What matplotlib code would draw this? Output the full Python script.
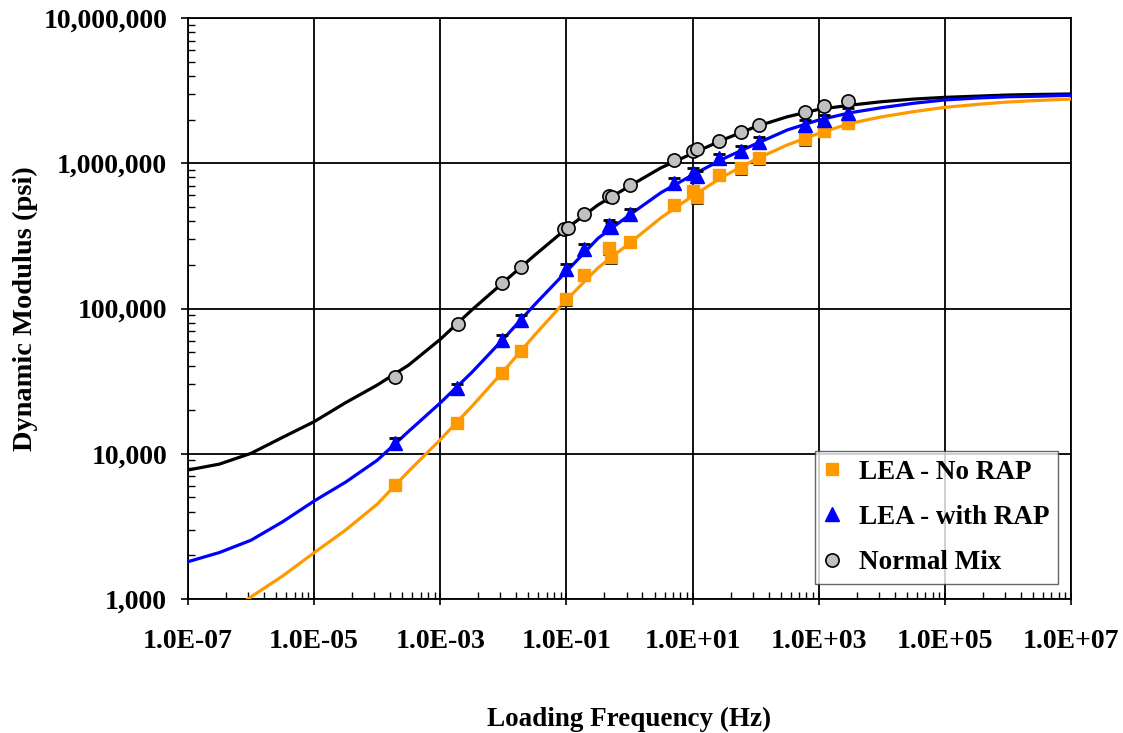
import matplotlib
matplotlib.use("Agg")
import matplotlib.pyplot as plt
from matplotlib.ticker import FixedLocator, FuncFormatter, NullFormatter

plt.rcParams['font.family'] = ['Liberation Serif', 'DejaVu Serif']
plt.rcParams['font.weight'] = 'bold'

# fitted master curves, every half decade
curve_freq = [1e-7, 3.16e-7, 1e-6, 3.16e-6, 1e-5, 3.16e-5, 1e-4, 3.16e-4, 1e-3, 3.16e-3,
              1e-2, 3.16e-2, 1e-1, 3.16e-1, 1e0, 3.16e0, 1e1, 3.16e1, 1e2, 3.16e2,
              1e3, 3.16e3, 1e4, 3.16e4, 1e5, 3.16e5, 1e6, 3.16e6, 1e7]
curve_normal = [7730, 8490, 10070, 12970, 16630, 22490, 29720, 40830, 61380, 97700,
                151400, 233300, 354800, 516400, 696600, 931100, 1169000, 1462000, 1786000, 2089000,
                2350000, 2512000, 2655000, 2767000, 2844000, 2897000, 2951000, 2979000, 2999000]
curve_rap = [1807, 2090, 2540, 3400, 4730, 6380, 9020, 14290, 22390, 36300,
             61700, 106700, 180000, 304100, 440600, 628100, 831800, 1081000, 1358000, 1694000,
             1986000, 2228000, 2415000, 2588000, 2729000, 2812000, 2871000, 2897000, 2938000]
curve_norap = [500, 724, 1035, 1439, 2084, 2985, 4500, 7590, 12500, 21180,
               36980, 65920, 114600, 190500, 281800, 421700, 595700, 816600, 1064000, 1337000,
               1607000, 1884000, 2089000, 2265000, 2427000, 2541000, 2642000, 2710000, 2767000]

# measured points
freq_normal = [1.9e-4, 1.9e-3, 9.5e-3, 0.019, 0.093, 0.107, 0.19, 0.48, 0.52, 1.02,
               5.08, 10.07, 11.9, 26.3, 58.9, 115, 603, 1202, 2951]
e_normal = [33960, 77800, 149300, 192300, 350800, 359700, 444600, 595700, 583400, 707900,
            1047000, 1213000, 1247000, 1429000, 1648000, 1832000, 2239000, 2477000, 2692000]

freq_lea = [1.9e-4, 1.86e-3, 9.5e-3, 0.019, 0.0986, 0.19, 0.48, 0.50, 1.02,
            5.08, 10.07, 11.9, 26.3, 58.9, 115, 603, 1202, 2951]
e_rap = [11800, 28200, 60700, 83200, 186200, 255900, 375800, 365600, 447700,
         734500, 853100, 816600, 1081000, 1222000, 1406000, 1832000, 1995000, 2208000]
e_norap = [6100, 16400, 36100, 51300, 115600, 169800, 260000, 225400, 288400,
           516400, 647100, 583400, 831800, 922600, 1081000, 1462000, 1675000, 1901000]
rel_err = 0.08

orange = '#FF9900'
blue = '#0000FF'

fig = plt.figure(figsize=(11.23, 7.33), dpi=100)
ax = fig.add_axes([0.1674, 0.1828, 0.7863, 0.7926])
ax.set_xscale('log')
ax.set_yscale('log')
ax.set_xlim(1e-7, 1e7)
ax.set_ylim(1e3, 1e7)

ax.plot(curve_freq, curve_normal, color='black', lw=2.3, zorder=3)
ax.plot(curve_freq, curve_rap, color=blue, lw=2.3, zorder=3)
ax.plot(curve_freq, curve_norap, color=orange, lw=2.3, zorder=3)

ax.errorbar(freq_lea, e_norap, yerr=[v * rel_err for v in e_norap], fmt='none',
            ecolor='black', elinewidth=1.2, capsize=4, capthick=2, zorder=4)
ax.errorbar(freq_lea, e_rap, yerr=[v * rel_err for v in e_rap], fmt='none',
            ecolor='black', elinewidth=1.2, capsize=4, capthick=2, zorder=4)

ax.plot(freq_lea, e_norap, ls='none', marker='s', ms=8.5, mfc=orange, mec=orange,
        label='LEA - No RAP', zorder=5)
ax.plot(freq_lea, e_rap, ls='none', marker='^', ms=10, mfc=blue, mec=blue,
        label='LEA - with RAP', zorder=5)
ax.plot(freq_normal, e_normal, ls='none', marker='o', ms=9.5, mfc='#C0C0C0', mec='black',
        mew=1.2, label='Normal Mix', zorder=6)

major_x = [10.0 ** p for p in range(-7, 8, 2)]
minor_x = [k * k * 10.0 ** p for p in range(-7, 7, 2) for k in range(2, 10)]
ax.xaxis.set_major_locator(FixedLocator(major_x))
ax.xaxis.set_minor_locator(FixedLocator(minor_x))
ax.xaxis.set_major_formatter(FuncFormatter(lambda v, pos: f"{v:.1E}"))
ax.xaxis.set_minor_formatter(NullFormatter())
ax.yaxis.set_major_formatter(FuncFormatter(lambda v, pos: f"{v:,.0f}"))
ax.yaxis.set_minor_formatter(NullFormatter())

ax.grid(True, which='major', color='black', lw=1.3, zorder=1)
ax.set_axisbelow(True)
for s in ax.spines.values():
    s.set_color('black')
    s.set_linewidth(1.3)

ax.tick_params(axis='x', which='major', direction='inout', length=9, width=1.2, pad=17, labelsize=20)
ax.tick_params(axis='x', which='minor', direction='in', length=5, width=1)
ax.tick_params(axis='y', which='major', direction='out', length=5, width=1.2, pad=10, labelsize=20)
ax.tick_params(axis='y', which='minor', direction='in', length=5, width=1)

ax.set_xlabel('Loading Frequency (Hz)', fontsize=19.5, fontweight='bold')
ax.set_ylabel('Dynamic Modulus (psi)', fontsize=20.5, fontweight='bold')
ax.xaxis.set_label_coords(0.5, -0.186)
ax.yaxis.set_label_coords(-0.17, 0.5)

leg = ax.legend(loc='lower right', bbox_to_anchor=(0.985, 0.026), borderaxespad=0,
                fontsize=19.5, frameon=True, fancybox=False, handletextpad=0.7,
                handlelength=0.6, labelspacing=0.75, borderpad=0.32)
leg.get_frame().set_edgecolor('#404040')
leg.get_frame().set_linewidth(1.0)
leg.set_zorder(10)

fig.savefig('out.png', dpi=100)
